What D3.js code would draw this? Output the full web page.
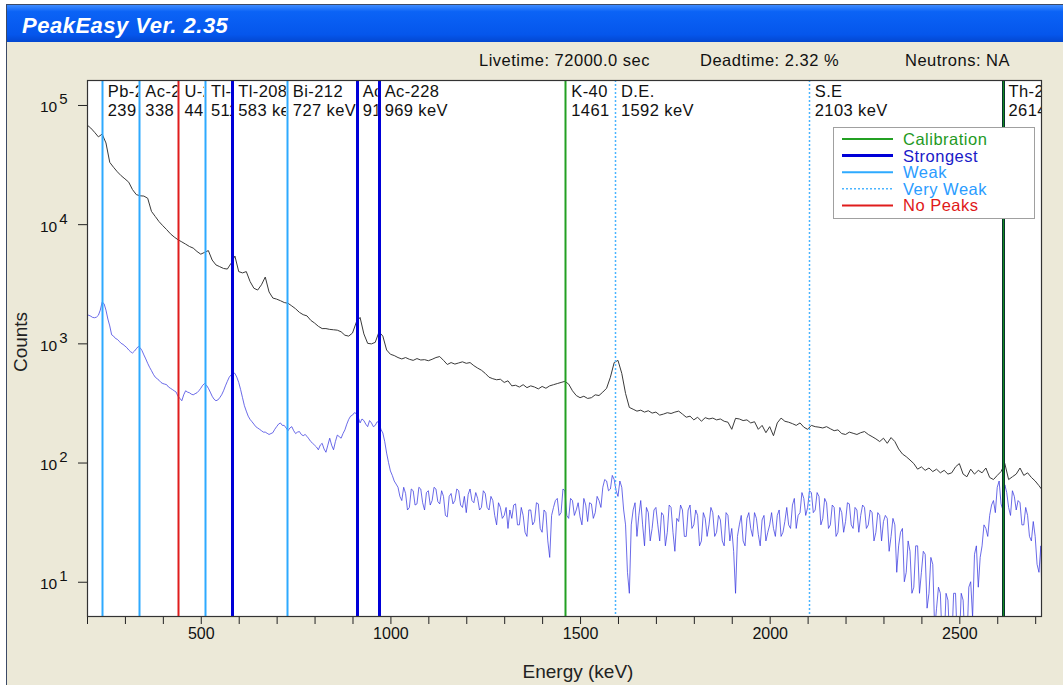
<!DOCTYPE html>
<html>
<head>
<meta charset="utf-8">
<script src="https://cdn.jsdelivr.net/npm/d3@7"></script>
<style>
  body { margin: 0; background: #fff; font-family: "Liberation Sans", Arial, sans-serif; }
  svg { display: block; }
</style>
</head>
<body>
<svg id="chart" width="1063" height="685"></svg>
<script>
// measured (black) spectrum: 10 keV channels from 200 keV
const measuredStart = 200
const measuredWidth = 10
const measured = [
  68000, 64000, 59000, 54000, 57000, 48000, 33000, 30000, 27500, 25500,
  24000, 22500, 19500, 17700, 17300, 17200, 16500, 12800, 11600, 10500,
  9700, 9000, 8300, 7800, 7400, 7100, 6800, 6500, 6300, 5900,
  5600, 5800, 6000, 5000, 4550, 4400, 4250, 4200, 4700, 5400,
  4000, 3900, 4000, 3300, 2900, 2800, 3100, 3600, 2700, 2400,
  2350, 2280, 2200, 2170, 2060, 1950, 1820, 1740, 1700, 1560,
  1480, 1390, 1330, 1330, 1310, 1300, 1290, 1250, 1170, 1150,
  1220, 1500, 1650, 1200, 1000, 990, 1020, 1250, 1150, 880,
  810, 790, 760, 740, 760, 735, 720, 745, 725, 730,
  715, 735, 760, 775, 720, 665, 690, 670, 685, 700,
  680, 690, 650, 620, 595, 560, 520, 505, 495, 500,
  470, 485, 440, 445, 430, 450, 425, 440, 430, 415,
  435, 420, 440, 450, 460, 470, 480, 455, 400, 365,
  350, 360, 345, 350, 370, 365, 390, 420, 520, 690,
  720, 560, 380, 290, 280, 270, 275, 265, 272, 260,
  265, 250, 255, 262, 258, 265, 270, 255, 240, 245,
  228, 240, 222, 238, 232, 236, 228, 232, 222, 218,
  190, 235, 232, 225, 228, 215, 220, 190, 205, 178,
  200, 168, 215, 236, 222, 218, 212, 205, 215, 198,
  190, 205, 200, 198, 195, 200, 192, 185, 188, 175,
  172, 180, 176, 172, 178, 182, 172, 165, 158, 150,
  160, 145, 162, 150, 130, 118, 112, 105, 98, 88,
  92, 86, 90, 84, 88, 82, 86, 80, 82, 92,
  98, 80, 76, 88, 80, 86, 82, 90, 75, 72,
  78, 84, 98, 72, 76, 80, 90, 78, 82, 75,
  70, 64, 58
]

// background-subtracted (blue) spectrum: 5 keV channels from 200 keV
const netStart = 200
const netWidth = 5
const net = [
  1730, 1720, 1690, 1650, 1640, 1660, 1720, 1900, 2220, 2150, 1900, 1600, 1400, 1180, 1150, 1100, 1080, 1040, 1000, 980,
  950, 920, 880, 850, 830, 860, 900, 940, 920, 870, 800, 740, 680, 630, 590, 550, 520, 505, 490, 470,
  460, 455, 450, 430, 420, 410, 400, 390, 360, 345, 330, 370, 400, 390, 385, 375, 370, 378, 385, 400,
  420, 445, 460, 445, 420, 390, 360, 340, 330, 335, 350, 370, 400, 440, 480, 520, 545, 565, 560, 520,
  470, 410, 350, 300, 270, 245, 230, 220, 210, 200, 195, 190, 185, 180, 180, 176, 172, 175, 178, 190,
  200, 210, 215, 205, 205, 195, 185, 195, 200, 185, 175, 180, 182, 172, 168, 172, 166, 158, 150, 145,
  140, 135, 128, 140, 145, 130, 122, 140, 160, 140, 128, 150, 170, 165, 160, 175, 188, 210, 230, 245,
  250, 262, 258, 240, 215, 232, 225, 210, 200, 225, 215, 200, 205, 220, 215, 190, 177, 150, 120, 100,
  85, 78, 70, 66, 62, 52, 48, 62, 55, 40, 42, 60, 58, 44, 45, 62, 60, 46, 40, 56,
  58, 44, 48, 62, 60, 47, 45, 58, 52, 36, 35, 52, 55, 45, 48, 60, 58, 44, 42, 52,
  38, 54, 60, 48, 46, 56, 50, 40, 42, 58, 55, 42, 40, 52, 48, 36, 30, 46, 42, 34,
  36, 42, 28, 40, 34, 44, 45, 30, 30, 42, 36, 26, 24, 40, 40, 30, 32, 46, 45, 28,
  26, 40, 38, 22, 16, 36, 42, 48, 50, 36, 38, 60, 58, 36, 34, 50, 48, 36, 40, 46,
  35, 30, 50, 44, 32, 46, 45, 34, 38, 52, 48, 42, 62, 72, 70, 58, 60, 78, 72, 58,
  52, 70, 62, 40, 30, 12, 8, 30, 40, 46, 24, 36, 48, 30, 20, 42, 38, 22, 28, 40,
  42, 30, 22, 38, 36, 20, 26, 44, 42, 26, 18, 34, 32, 44, 40, 24, 24, 40, 44, 28,
  30, 40, 36, 20, 22, 38, 34, 24, 30, 42, 38, 24, 26, 36, 33, 22, 20, 38, 36, 22,
  28, 18, 8, 24, 30, 36, 22, 20, 34, 38, 28, 24, 38, 34, 25, 20, 33, 36, 22, 26,
  30, 38, 28, 24, 36, 40, 24, 26, 32, 42, 30, 28, 44, 50, 28, 36, 38, 56, 50, 36,
  42, 58, 56, 38, 40, 56, 52, 30, 34, 50, 46, 28, 30, 44, 42, 24, 26, 42, 38, 26,
  32, 46, 45, 30, 28, 42, 40, 26, 36, 44, 42, 28, 30, 40, 38, 22, 26, 38, 36, 22,
  32, 36, 34, 18, 24, 34, 30, 12, 20, 26, 28, 10, 12, 22, 18, 8, 9, 20, 20, 8,
  12, 18, 17, 6, 8, 16, 14, 4, 6, 9, 8, 3, 3, 8, 7, 3, 3, 8, 8, 3,
  3, 8, 7, 3, 3, 9, 10, 5, 17, 20, 9, 16, 20, 30, 28, 24, 36, 44, 48, 38,
  62, 70, 45, 40, 65, 56, 42, 36, 58, 52, 40, 48, 46, 30, 30, 42, 36, 24, 22, 32,
  24, 14, 12, 20, 3
]

// identified peaks
const peakEnergies = [239, 338, 441, 511, 583, 727, 911, 969, 1461, 1592, 2103, 2614]
const peakNuclides = ["Pb-212", "Ac-228", "U-235", "Tl-208", "Tl-208", "Bi-212", "Ac-228", "Ac-228", "K-40", "D.E.", "S.E", "Th-208"]
const peakTexts = ["239 keV", "338 keV", "442 keV", "511 keV", "583 keV", "727 keV", "911 keV", "969 keV", "1461 keV", "1592 keV", "2103 keV", "2614 keV"]
const peakKinds = ["weak", "weak", "none", "weak", "strong", "weak", "strong", "strong", "calib", "veryweak", "veryweak", "calibstrong"]

const legendLabels = ["Calibration", "Strongest", "Weak", "Very Weak", "No Peaks"]
const legendKinds = ["calib", "strong", "weak", "veryweak", "none"]

const yTicks = [10, 100, 1000, 10000, 100000]
const xTicks = d3.range(200, 2701, 100)

const styles = {
  calib:    { stroke: "#23a023", width: 2,   dash: null,  text: "#1f9a1f" },
  strong:   { stroke: "#0000d8", width: 3,   dash: null,  text: "#1a1ac8" },
  weak:     { stroke: "#2eaaff", width: 2,   dash: null,  text: "#2a9cff" },
  veryweak: { stroke: "#4ab4ff", width: 1.5, dash: "2,2", text: "#2a9cff" },
  none:     { stroke: "#e01c1c", width: 2,   dash: null,  text: "#e01818" }
}

const svg = d3.select("#chart")
const plotLeft = 87, plotRight = 1042, plotTop = 80, plotBottom = 617

// window frame
const defs = svg.append("defs")
const grad = defs.append("linearGradient").attr("id", "titlebar").attr("x1", 0).attr("y1", 0).attr("x2", 0).attr("y2", 1)
grad.append("stop").attr("offset", "0%").attr("stop-color", "#3f8cff")
grad.append("stop").attr("offset", "18%").attr("stop-color", "#0b63f6")
grad.append("stop").attr("offset", "80%").attr("stop-color", "#0556ec")
grad.append("stop").attr("offset", "100%").attr("stop-color", "#0347d0")

svg.append("rect").attr("x", 6.5).attr("y", 4.5).attr("width", 1063).attr("height", 685)
  .attr("fill", "#ece9d8").attr("stroke", "#3c4a66").attr("stroke-width", 1)
svg.append("rect").attr("x", 7).attr("y", 5).attr("width", 1063).attr("height", 37)
  .attr("fill", "url(#titlebar)")
svg.append("text").attr("x", 22).attr("y", 33)
  .attr("fill", "#fff").attr("font-size", 22).attr("font-weight", "bold").attr("font-style", "italic")
  .attr("letter-spacing", 0.5)
  .text("PeakEasy Ver. 2.35")

// header info
const header = svg.append("g").attr("font-size", 16.5).attr("letter-spacing", 0.5).attr("fill", "#111")
header.append("text").attr("x", 479).attr("y", 66).text("Livetime: 72000.0 sec")
header.append("text").attr("x", 700).attr("y", 66).text("Deadtime: 2.32 %")
header.append("text").attr("x", 905).attr("y", 66).text("Neutrons: NA")

// scales
const x = d3.scaleLinear().domain([200, 2718]).range([plotLeft, plotRight])
const y = d3.scaleLog().domain([5.06, 162000]).range([plotBottom, plotTop])

svg.append("rect").attr("x", plotLeft).attr("y", plotTop)
  .attr("width", plotRight - plotLeft).attr("height", plotBottom - plotTop)
  .attr("fill", "#fff")

defs.append("clipPath").attr("id", "plotclip")
  .append("rect").attr("x", plotLeft).attr("y", plotTop)
  .attr("width", plotRight - plotLeft).attr("height", plotBottom - plotTop)

const plot = svg.append("g").attr("clip-path", "url(#plotclip)")

function spectrumLine(start, width) {
  return d3.line()
    .x((d, i) => x(start + i * width))
    .y(d => y(Math.max(d, 1)))
}

plot.append("path").datum(net)
  .attr("d", spectrumLine(netStart, netWidth)).attr("fill", "none")
  .attr("stroke", "#3a3ae0").attr("stroke-opacity", 0.75).attr("stroke-width", 1)

plot.append("path").datum(measured)
  .attr("d", spectrumLine(measuredStart, measuredWidth)).attr("fill", "none")
  .attr("stroke", "#3a3a3a").attr("stroke-width", 1)

// peak marker lines
const peaks = peakEnergies.map((e, i) => ({
  energy: e, nuclide: peakNuclides[i], text: peakTexts[i], kind: peakKinds[i]
}))

function drawMarker(g, kind, x1, y1, x2, y2) {
  if (kind === "calibstrong") {
    // calibration peak that is also among the strongest
    g.append("line").attr("x1", x1).attr("y1", y1).attr("x2", x2).attr("y2", y2)
      .attr("stroke", "#0a2a30").attr("stroke-width", 3)
    g.append("line").attr("x1", x1).attr("y1", y1).attr("x2", x2).attr("y2", y2)
      .attr("stroke", "#138a20").attr("stroke-width", 1.2)
    return
  }
  const s = styles[kind]
  g.append("line")
    .attr("x1", x1).attr("y1", y1).attr("x2", x2).attr("y2", y2)
    .attr("stroke", s.stroke).attr("stroke-width", s.width)
    .attr("stroke-dasharray", s.dash)
}

peaks.forEach(p => {
  const px = Math.round(x(p.energy)) + 0.5
  drawMarker(plot, p.kind, px, plotTop, px, plotBottom)
})

// peak labels, each clipped to the gap up to the next marker
peaks.forEach((p, i) => {
  const x0 = x(p.energy)
  const x1 = i < peaks.length - 1 ? x(peaks[i + 1].energy) - 1 : plotRight - 1
  const id = "lab" + i
  defs.append("clipPath").attr("id", id)
    .append("rect").attr("x", x0 + 2).attr("y", plotTop).attr("width", x1 - x0 - 2).attr("height", 50)
  const g = svg.append("g").attr("clip-path", "url(#" + id + ")")
    .attr("font-size", 16.5).attr("letter-spacing", 0.4).attr("fill", "#111")
  g.append("text").attr("x", x0 + 6).attr("y", 97).text(p.nuclide)
  g.append("text").attr("x", x0 + 6).attr("y", 116).text(p.text)
})

// axes
const xAxis = d3.axisBottom(x).tickValues(xTicks).tickSize(7).tickPadding(4)
  .tickFormat(d => d % 500 === 0 ? d : "")
const gx = svg.append("g").attr("transform", "translate(0," + plotBottom + ")").call(xAxis)
gx.select(".domain").remove()
gx.selectAll(".tick line").attr("stroke", "#222")
gx.selectAll(".tick text").attr("font-size", 16).attr("font-family", "Liberation Sans, Arial, sans-serif")
  .attr("fill", "#111").attr("dy", "0.75em").attr("y", 10)

const yAxis = d3.axisLeft(y).tickValues(yTicks).tickSize(9).tickFormat("")
const gy = svg.append("g").attr("transform", "translate(" + plotLeft + ",0)").call(yAxis)
gy.select(".domain").remove()
gy.selectAll(".tick line").attr("stroke", "#222")
gy.selectAll(".tick").each(function (d) {
  const t = d3.select(this).append("text")
    .attr("x", -47).attr("y", 7)
    .attr("text-anchor", "start").attr("fill", "#111")
    .attr("font-family", "Liberation Sans, Arial, sans-serif")
  t.append("tspan").attr("font-size", 15.5).text("10")
  t.append("tspan").attr("font-size", 15).attr("dy", -8).attr("dx", 2).text(Math.round(Math.log10(d)))
})

svg.append("rect").attr("x", plotLeft + 0.5).attr("y", plotTop + 0.5)
  .attr("width", plotRight - plotLeft - 1).attr("height", plotBottom - plotTop - 1)
  .attr("fill", "none").attr("stroke", "#333").attr("stroke-width", 1.2)

svg.append("text").attr("x", 578).attr("y", 678).attr("text-anchor", "middle")
  .attr("font-size", 19).attr("fill", "#222").text("Energy (keV)")
svg.append("text").attr("transform", "translate(27,342) rotate(-90)").attr("text-anchor", "middle")
  .attr("font-size", 19).attr("fill", "#222").text("Counts")

// legend
const legend = svg.append("g")
legend.append("rect").attr("x", 833.5).attr("y", 127.5).attr("width", 201).attr("height", 91)
  .attr("fill", "#fff").attr("stroke", "#a0a0a0")
legendLabels.forEach((label, i) => {
  const s = styles[legendKinds[i]]
  const cy = 139 + i * 16.6
  drawMarker(legend, legendKinds[i], 842, cy, 893, cy)
  legend.append("text").attr("x", 903).attr("y", cy + 6)
    .attr("font-size", 16.5).attr("letter-spacing", 0.5).attr("fill", s.text).text(label)
})
</script>
</body>
</html>
